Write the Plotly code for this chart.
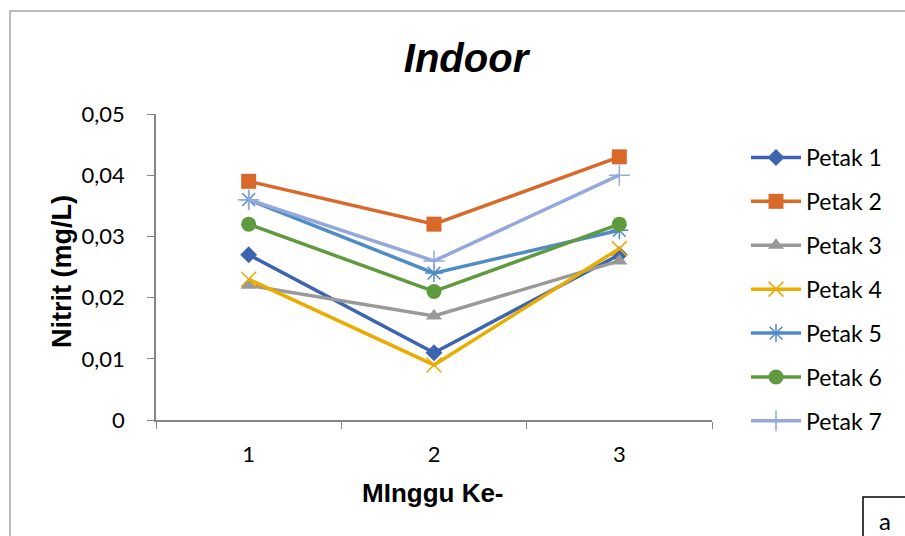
import plotly.graph_objects as go

# Weekly nitrite readings (mg/L) for each indoor plot
weeks = ["1", "2", "3"]
petak_1 = [0.027, 0.011, 0.027]
petak_2 = [0.039, 0.032, 0.043]
petak_3 = [0.022, 0.017, 0.026]
petak_4 = [0.023, 0.009, 0.028]
petak_5 = [0.036, 0.024, 0.031]
petak_6 = [0.032, 0.021, 0.032]
petak_7 = [0.036, 0.026, 0.040]

series_names = ["Petak 1", "Petak 2", "Petak 3", "Petak 4", "Petak 5", "Petak 6", "Petak 7"]
series_values = [petak_1, petak_2, petak_3, petak_4, petak_5, petak_6, petak_7]

y_tick_values = [0, 0.01, 0.02, 0.03, 0.04, 0.05]
y_tick_labels = ["0", "0,01", "0,02", "0,03", "0,04", "0,05"]

colors = ["#3D64B0", "#D9692B", "#999999", "#E8AD00", "#4F8CC6", "#5F9B3E", "#94A8DC"]
symbols = ["diamond", "square", "triangle-up", "x-thin-open", "asterisk-open", "circle", "cross-thin-open"]
sizes = [13, 15, 14, 15, 15, 15, 15]

W, H = 905, 536
L, R, T, B = 156, 712, 114, 420


def px(x):
    return (x - L) / (R - L)


def py(y):
    return (B - y) / (B - T)


fig = go.Figure()
for i, (name, vals) in enumerate(zip(series_names, series_values)):
    open_sym = symbols[i].endswith("open")
    fig.add_trace(go.Scatter(
        x=weeks, y=vals, name=name, mode="lines+markers",
        legendgroup=name,
        line=dict(color=colors[i], width=3.5),
        marker=dict(symbol=symbols[i], size=sizes[i], color=colors[i],
                    line=dict(color=colors[i], width=1.5 if open_sym else 0)),
    ))

fig.update_layout(
    width=W, height=H,
    margin=dict(l=L, r=W - R, t=T, b=H - B, pad=0),
    paper_bgcolor="white", plot_bgcolor="white",
    font=dict(family="Lato, Open Sans, sans-serif", color="#000000", size=20),
    title=dict(text="<b><i>Indoor</i></b>", x=466 / W, xref="container", xanchor="center",
               y=1 - 58 / H, yref="container", yanchor="middle",
               font=dict(family="Liberation Sans, Arial, sans-serif", size=40, color="#000")),
    showlegend=True,
    legend=dict(x=px(746), y=py(136), xanchor="left", yanchor="top",
                font=dict(size=23), tracegroupgap=11, itemwidth=50,
                maxheight=420, bgcolor="rgba(0,0,0,0)"),
    xaxis=dict(type="category", range=[-0.5, 2.5], showline=True, linecolor="#868686",
               linewidth=1.5, ticks="outside", ticklen=7, tickcolor="#868686",
               tickson="boundaries", showgrid=False, zeroline=False,
               ticklabelstandoff=14, tickfont=dict(size=22)),
    yaxis=dict(range=[0, 0.05], tickvals=y_tick_values, ticktext=y_tick_labels,
               showline=True, linecolor="#868686", linewidth=1.5, ticks="outside",
               ticklen=7, tickcolor="#868686", showgrid=False, zeroline=False,
               ticklabelstandoff=18, tickfont=dict(size=22)),
    annotations=[
        dict(text="<b>Nitrit (mg/L)</b>", textangle=-90, xref="paper", yref="paper",
             x=px(62), y=py(272), xanchor="center", yanchor="middle", showarrow=False,
             font=dict(family="Liberation Sans, Arial, sans-serif", size=27)),
        dict(text="<b>MInggu Ke-</b>", xref="paper", yref="paper",
             x=px(433), y=py(493), xanchor="center", yanchor="middle", showarrow=False,
             font=dict(family="Liberation Sans, Arial, sans-serif", size=26)),
        dict(text="a", xref="paper", yref="paper", x=px(885), y=py(520),
             xanchor="center", yanchor="middle", showarrow=False,
             font=dict(size=24)),
    ],
    shapes=[
        # outer chart frame
        dict(type="rect", xref="paper", yref="paper", x0=px(10), y0=py(560),
             x1=px(930), y1=py(11), line=dict(color="#A6A6A6", width=1.5),
             fillcolor="rgba(0,0,0,0)", layer="below"),
        # small label box in the corner
        dict(type="rect", xref="paper", yref="paper", x0=px(863), y0=py(560),
             x1=px(930), y1=py(497), line=dict(color="#000000", width=1.5),
             fillcolor="rgba(0,0,0,0)"),
    ],
)

fig.write_html("out.html")
